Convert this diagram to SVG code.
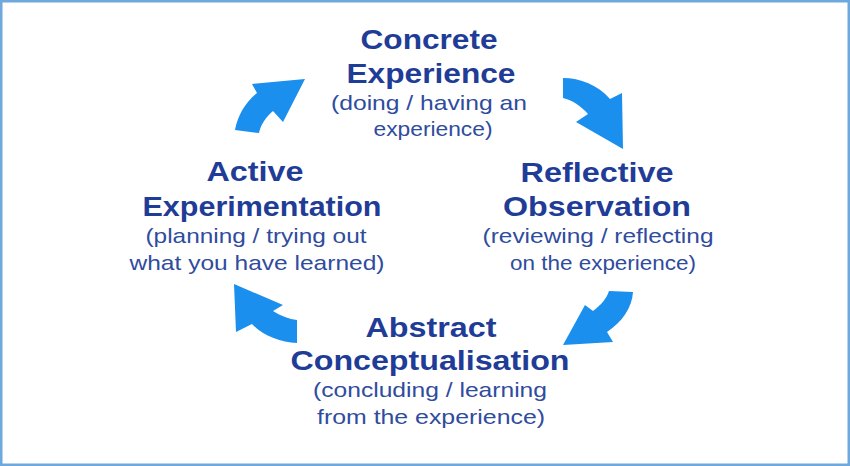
<svg xmlns="http://www.w3.org/2000/svg" width="850" height="466" viewBox="0 0 850 466">
<style>
.t{font-family:"Liberation Sans",Arial,sans-serif;font-weight:bold;font-size:27.5px;fill:#1f3c96;text-anchor:middle}
.s{font-family:"Liberation Sans",Arial,sans-serif;font-size:21px;fill:#2f4c9e;text-anchor:middle}
.a{fill:#1b8fee}
</style>
<rect x="0" y="0" width="850" height="466" fill="#ffffff"/>
<rect x="1.25" y="1.25" width="847.5" height="463.5" fill="none" stroke="#6fa8dc" stroke-width="2.5"/>
<g id="connectors">
<path class="a" d="M235,130 C238,115 245,103 257,93 L252,84 L305,79 L283,122 L273,111 C266,117 261,124 259,133 Z"/>
<path class="a" d="M563,78 C580,78 598,85 610,99 L622,93 L623,149 L576,122 L588,114 C581,106 572,100 563,98 Z"/>
<path class="a" d="M609,291 L633,292 C632,308 622,322 607,332 L613,342 L563,345 L585,305 L593,311 C601,305 607,298 609,291 Z"/>
<path class="a" d="M297,343 C280,342 263,336 252,324 L236,332 L234,284 L283,305 L273,311 C281,316 289,319 297,320 Z"/>
</g>
<g id="concrete">
<text class="t" x="429" y="49" textLength="137" lengthAdjust="spacingAndGlyphs">Concrete</text>
<text class="t" x="431" y="83" textLength="169" lengthAdjust="spacingAndGlyphs">Experience</text>
<text class="s" x="429" y="110" textLength="196" lengthAdjust="spacingAndGlyphs">(doing / having an</text>
<text class="s" x="433" y="136" textLength="119" lengthAdjust="spacingAndGlyphs">experience)</text>
</g>
<g id="reflective">
<text class="t" x="597" y="182" textLength="153" lengthAdjust="spacingAndGlyphs">Reflective</text>
<text class="t" x="597" y="216" textLength="188" lengthAdjust="spacingAndGlyphs">Observation</text>
<text class="s" x="598" y="243" textLength="231" lengthAdjust="spacingAndGlyphs">(reviewing / reflecting</text>
<text class="s" x="603" y="270" textLength="186" lengthAdjust="spacingAndGlyphs">on the experience)</text>
</g>
<g id="active">
<text class="t" x="255" y="181" textLength="97" lengthAdjust="spacingAndGlyphs">Active</text>
<text class="t" x="262" y="216" textLength="239" lengthAdjust="spacingAndGlyphs">Experimentation</text>
<text class="s" x="256" y="243" textLength="221" lengthAdjust="spacingAndGlyphs">(planning / trying out</text>
<text class="s" x="257" y="270" textLength="255" lengthAdjust="spacingAndGlyphs">what you have learned)</text>
</g>
<g id="abstract">
<text class="t" x="431" y="337" textLength="131" lengthAdjust="spacingAndGlyphs">Abstract</text>
<text class="t" x="430" y="370" textLength="279" lengthAdjust="spacingAndGlyphs">Conceptualisation</text>
<text class="s" x="430" y="397" textLength="234" lengthAdjust="spacingAndGlyphs">(concluding / learning</text>
<text class="s" x="431" y="424" textLength="228" lengthAdjust="spacingAndGlyphs">from the experience)</text>
</g>
</svg>
